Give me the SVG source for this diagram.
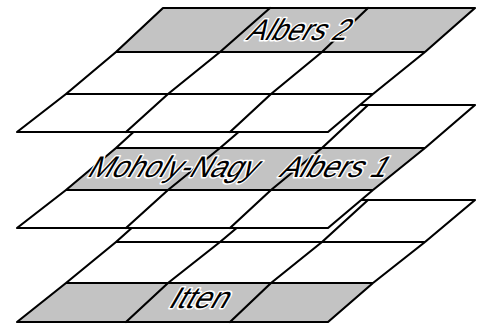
<svg xmlns="http://www.w3.org/2000/svg" width="479" height="329" viewBox="0 0 479 329">
  <style>
    .bg{fill:#fff}
    .sh{fill:#c3c3c3}
    .ln{fill:none;stroke:#000;stroke-width:2.2;stroke-linejoin:round;stroke-linecap:round}
    .lbl{font-family:"Liberation Sans",Arial,sans-serif;font-size:30px;fill:#000;stroke:#fff;stroke-width:3;paint-order:stroke;stroke-linejoin:round}
  </style>
  <rect width="479" height="329" fill="#fff"/>

  <g id="layer-bottom">
    <polygon class="bg" points="163,200 475,200 425,242 373,283 328,322 17,322 66,283 116,242"/>
    <polygon class="sh" points="66,283 373,283 328,322 17,322"/>
    <path class="ln" d="M163,200 L475,200 L425,242 L373,283 L328,322 L17,322 L66,283 L116,242 Z M116,242 H425 M66,283 H373 M270,200 L220,242 L168,283 L126,322 M368,200 L322,242 L271,283 L230,322"/>
    <text class="lbl" transform="translate(167,308) skewX(-30)" textLength="58" lengthAdjust="spacingAndGlyphs">Itten</text>
  </g>

  <g id="layer-middle">
    <polygon class="bg" points="163,105 475,105 425,148 373,190 328,228 17,228 66,190 116,148"/>
    <polygon class="sh" points="116,148 425,148 373,190 66,190"/>
    <path class="ln" d="M163,105 L475,105 L425,148 L373,190 L328,228 L17,228 L66,190 L116,148 Z M116,148 H425 M66,190 H373 M270,105 L220,148 L168,190 L126,228 M368,105 L322,148 L271,190 L230,228"/>
    <text class="lbl" transform="translate(86,177) skewX(-30)" textLength="168" lengthAdjust="spacingAndGlyphs">Moholy-Nagy</text>
    <text class="lbl" transform="translate(278,177) skewX(-30)" textLength="106" lengthAdjust="spacingAndGlyphs">Albers 1</text>
  </g>

  <g id="layer-top">
    <polygon class="bg" points="163,8 475,8 425,52 373,94 328,132 17,132 66,94 116,52"/>
    <polygon class="sh" points="163,8 475,8 425,52 116,52"/>
    <path class="ln" d="M163,8 L475,8 L425,52 L373,94 L328,132 L17,132 L66,94 L116,52 Z M116,52 H425 M66,94 H373 M270,8 L220,52 L168,94 L126,132 M368,8 L322,52 L271,94 L230,132"/>
    <text class="lbl" transform="translate(245,40) skewX(-30)" textLength="100" lengthAdjust="spacingAndGlyphs">Albers 2</text>
  </g>
</svg>
